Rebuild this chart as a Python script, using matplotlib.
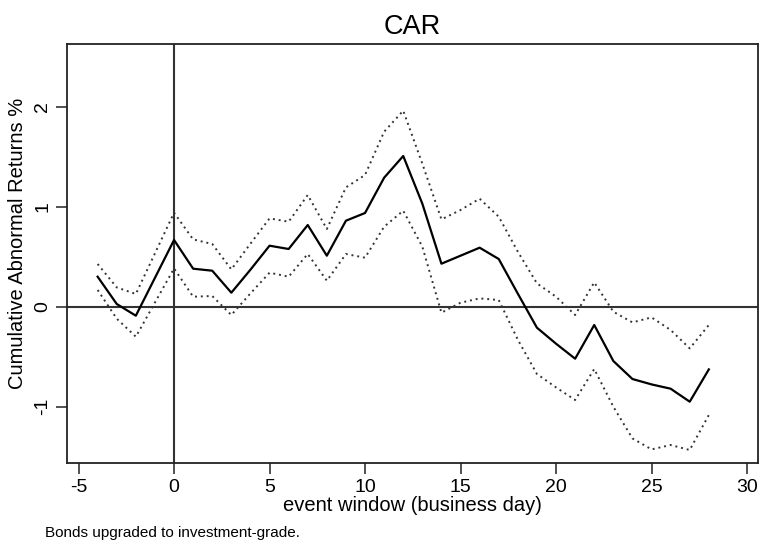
import matplotlib
matplotlib.use("Agg")
import matplotlib.pyplot as plt

plt.rcParams['font.family'] = ['Liberation Sans', 'DejaVu Sans']

days = list(range(-4, 29))
car = [0.30, 0.027, -0.09, None, 0.667, 0.38, 0.36, 0.14, 0.37, 0.61, 0.577,
       0.817, 0.51, 0.86, 0.937, 1.29, 1.507, 1.03, 0.43, 0.51, 0.59, 0.477,
       0.13, -0.21, -0.37, -0.52, -0.183, -0.543, -0.723, -0.777, -0.82, -0.95, -0.627]
upper = [0.427, 0.193, 0.127, None, 0.94, 0.673, 0.627, 0.373, 0.63, 0.883, 0.85,
         1.117, 0.777, 1.193, 1.317, 1.75, 1.96, 1.43, 0.873, 0.967, 1.08, 0.90,
         0.55, 0.233, 0.10, -0.083, 0.243, -0.05, -0.157, -0.107, -0.233, -0.417, -0.183]
lower = [0.167, -0.12, -0.30, None, 0.383, 0.10, 0.107, -0.083, 0.133, 0.34, 0.30,
         0.527, 0.26, 0.527, 0.49, 0.80, 0.96, 0.60, -0.06, 0.04, 0.083, 0.067,
         -0.33, -0.673, -0.807, -0.933, -0.623, -1.0, -1.317, -1.427, -1.383, -1.433, -1.083]

# day -1 is not plotted as a vertex in the reference; drop missing entries
def clean(xs, ys):
    pts = [(x, y) for x, y in zip(xs, ys) if y is not None]
    return [p[0] for p in pts], [p[1] for p in pts]

xticks = [-5, 0, 5, 10, 15, 20, 25, 30]
yticks = [-1, 0, 1, 2]

fig = plt.figure(figsize=(7.6, 5.43), dpi=100)
ax = fig.add_axes([66.7/760, 1-463.3/543, (758.3-66.7)/760, (463.3-43.7)/543])

ax.axhline(0, color='#333333', lw=1.5, zorder=1)
ax.axvline(0, color='#333333', lw=1.5, zorder=1)

x, y = clean(days, upper)
ax.plot(x, y, color='#333333', lw=1.4, linestyle=(0, (1, 2)), zorder=2)
x, y = clean(days, lower)
ax.plot(x, y, color='#333333', lw=1.4, linestyle=(0, (1, 2)), zorder=2)
x, y = clean(days, car)
ax.plot(x, y, color='black', lw=1.6, zorder=3)

ax.set_xlim(-5.62, 30.59)
ax.set_ylim(-1.566, 2.63)
ax.set_xticks(xticks)
ax.set_yticks(yticks)
ax.set_xticklabels([str(t) for t in xticks], fontsize=14)
ax.set_yticklabels([str(t) for t in yticks], fontsize=14, rotation=90, va='center')
ax.tick_params(direction='out', length=8, width=1.2, color='#333333', pad=3)
for s in ax.spines.values():
    s.set_linewidth(1.3)
    s.set_color('#222222')

ax.set_xlabel('event window (business day)', fontsize=14.5, labelpad=0)
ax.set_ylabel('Cumulative Abnormal Returns %', fontsize=14.5)
ax.yaxis.set_label_coords(-0.057, 0.523)
ax.set_title('CAR', fontsize=19.5, pad=7)

fig.text(45/760, 1-533/543, 'Bonds upgraded to investment-grade.', fontsize=11, va='center', ha='left')

fig.savefig('out.png', dpi=100)
